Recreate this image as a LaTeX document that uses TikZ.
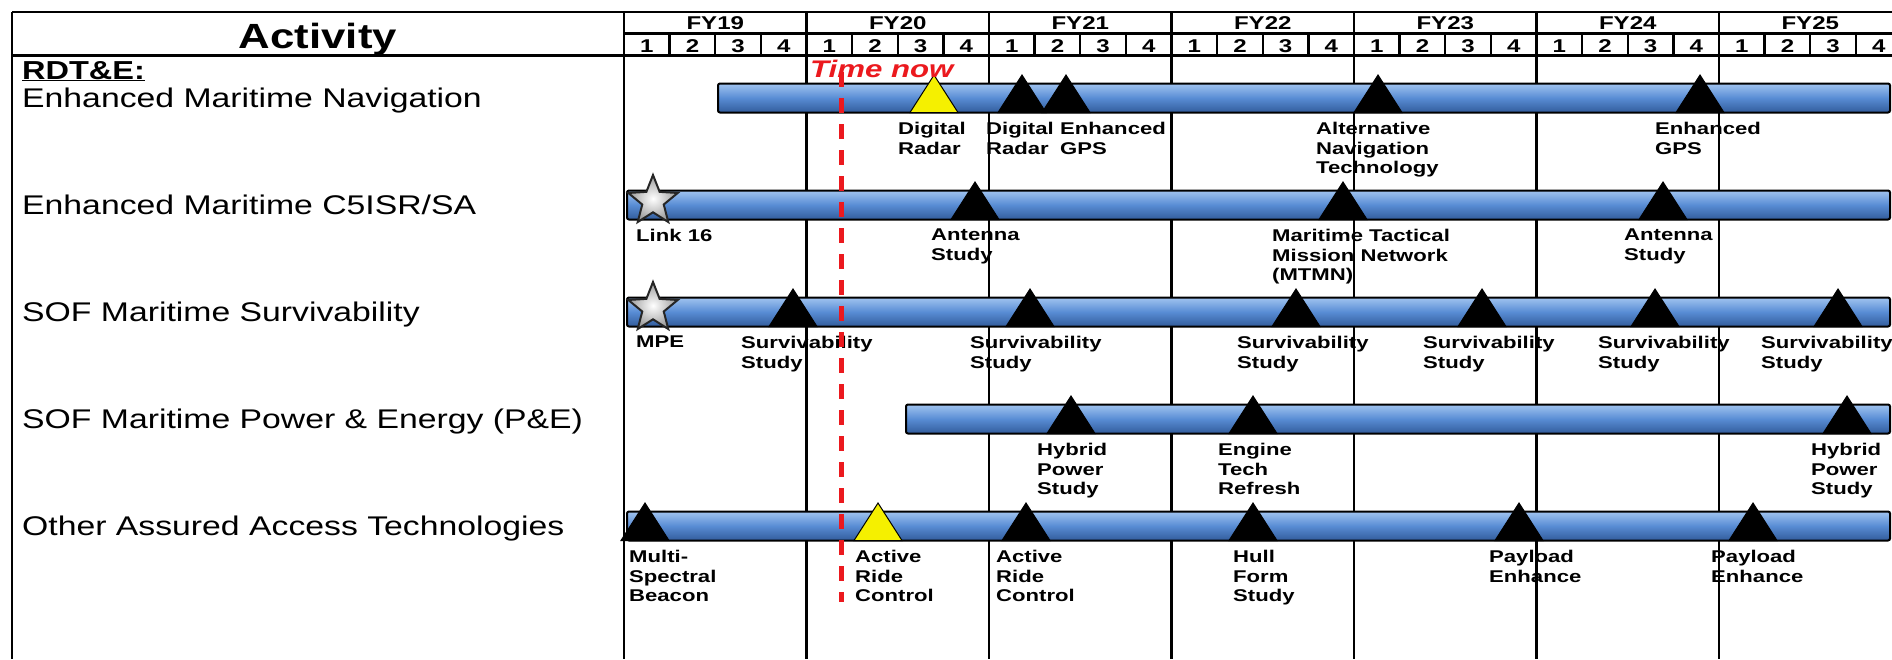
\documentclass[tikz,border=0pt]{standalone}
\usepackage{fontspec}
\setmainfont[FakeStretch=1.25]{Liberation Sans}
\newfontfamily\lblfont[FakeStretch=1.3]{Liberation Sans}
\usepackage{tikz}
\usetikzlibrary{shapes.geometric}

\definecolor{barblue}{RGB}{88,140,212}
\definecolor{barlight}{RGB}{160,196,240}
\definecolor{bardark}{RGB}{50,92,155}
\definecolor{nowred}{RGB}{235,25,30}
\definecolor{msyellow}{RGB}{245,240,0}

\tikzset{
  gridline/.style={line width=2.4pt,black},
  bar/.style={draw=black,line width=2pt,rounded corners=2pt,top color=barlight,bottom color=bardark,middle color=barblue},
  mstri/.style={draw=black,line width=1pt},
  msstar/.style={star,star points=5,star point ratio=2.3,minimum size=52pt,inner sep=0pt,
    draw=black!85,line width=2pt,inner color=white,outer color=gray!80},
  lbl/.style={anchor=north west,align=left,inner sep=0pt,font=\lblfont\bfseries\fontsize{17}{19.5}\selectfont},
  rowlbl/.style={anchor=base west,inner sep=0pt,font=\fontsize{27}{30}\selectfont},
  hdr/.style={anchor=base,inner sep=0pt,font=\lblfont\bfseries\fontsize{18.5}{21}\selectfont},
  nowline/.style={nowred,line width=5pt,dash pattern=on 15pt off 11pt}
}

% milestone triangle: [fill]{x}{row centre}
\newcommand{\tri}[3][black]{%
  \draw[mstri,fill=#1] ({#2-24},{#3+14.5}) -- (#2,{#3-23}) -- ({#2+24},{#3+14.5}) -- cycle;}

\begin{document}
\begin{tikzpicture}[x=1pt,y=-1pt]
\useasboundingbox (0,0) rectangle (1892,659);
\clip (0,0) rectangle (1892,659);

% table frame
\draw[gridline] (12,12) -- (1892,12);
\draw[gridline] (624,33.5) -- (1892,33.5);
\draw[gridline] (12,55.5) -- (1892,55.5);
\draw[gridline] (12,12) -- (12,659);
\foreach \k in {0,...,7}
  \draw[gridline] ({624+182.5*\k},12) -- ({624+182.5*\k},659);
\foreach \j in {1,...,27}
  \draw[gridline] ({624+45.625*\j},33.5) -- ({624+45.625*\j},55.5);

% header
\node[anchor=base,inner sep=0pt,font=\bfseries\fontsize{35}{40}\selectfont] (act) at (318,48.5) {Activity};
\foreach \yr [count=\i from 0] in {19,...,25} {
  \node[hdr] (fy\yr) at ({624+182.5*\i+91.25},29.5) {FY\yr};
  \foreach \q in {1,...,4}
    \node[hdr] (q\yr\q) at ({624+182.5*\i+45.625*(\q-0.5)},52) {\q};
}

% activities
\node[anchor=base west,inner sep=0pt,font=\bfseries\fontsize{26}{30}\selectfont] (rdte) at (22,79) {\underline{RDT\&E:}};
\node[rowlbl] (nav) at (22,107.5) {Enhanced Maritime Navigation};
\node[rowlbl] (cfive) at (22,214.5) {Enhanced Maritime C5ISR/SA};
\node[rowlbl] (surv) at (22,321.5) {SOF Maritime Survivability};
\node[rowlbl] (pe) at (22,428.5) {SOF Maritime Power \& Energy (P\&E)};
\node[rowlbl] (other) at (22,535.5) {Other Assured Access Technologies};

% bars
\draw[bar] (718,83.5) rectangle (1890,112.5);
\draw[bar] (627,190.5) rectangle (1890,219.5);
\draw[bar] (627,297.5) rectangle (1890,326.5);
\draw[bar] (906,404.5) rectangle (1890,433.5);
\draw[bar] (627,511.5) rectangle (1890,540.5);

% milestones
\tri[msyellow]{934}{98}
\tri{1022}{98}
\tri{1066}{98}
\tri{1378}{98}
\tri{1700}{98}

\node[msstar] (link) at (653,201) {};
\tri{975}{205}
\tri{1343}{205}
\tri{1663}{205}

\node[msstar] (mpe) at (653,308) {};
\tri{793}{312}
\tri{1030}{312}
\tri{1296}{312}
\tri{1482}{312}
\tri{1655}{312}
\tri{1838}{312}

\tri{1071}{419}
\tri{1253}{419}
\tri{1847}{419}

\tri{645}{526}
\tri[msyellow]{878}{526}
\tri{1026}{526}
\tri{1253}{526}
\tri{1519}{526}
\tri{1753}{526}

% milestone labels
\node[lbl] (radar1) at (898,122) {Digital\\Radar};
\node[lbl] (radar2) at (986,122) {Digital\\Radar};
\node[lbl] (gps1) at (1060,122) {Enhanced\\GPS};
\node[lbl] (altnav) at (1316,122) {Alternative\\Navigation\\Technology};
\node[lbl] (gps2) at (1655,122) {Enhanced\\GPS};

\node[lbl] (link16) at (636,229) {Link 16};
\node[lbl] (ant1) at (931,229) {Antenna\\Study};
\node[lbl] (mtmn) at (1272,229) {Maritime Tactical\\Mission Network\\(MTMN)};
\node[lbl] (ant2) at (1624,229) {Antenna\\Study};

\node[lbl] (mpelbl) at (636,336) {MPE};
\node[lbl] (sv1) at (741,336) {Survivability\\Study};
\node[lbl] (sv2) at (970,336) {Survivability\\Study};
\node[lbl] (sv3) at (1237,336) {Survivability\\Study};
\node[lbl] (sv4) at (1423,336) {Survivability\\Study};
\node[lbl] (sv5) at (1598,336) {Survivability\\Study};
\node[lbl] (sv6) at (1761,336) {Survivability\\Study};

\node[lbl] (hyb1) at (1037,443) {Hybrid\\Power\\Study};
\node[lbl] (eng) at (1218,443) {Engine\\Tech\\Refresh};
\node[lbl] (hyb2) at (1811,443) {Hybrid\\Power\\Study};

\node[lbl] (beacon) at (629,550) {Multi-\\Spectral\\Beacon};
\node[lbl] (ride1) at (855,550) {Active\\Ride\\Control};
\node[lbl] (ride2) at (996,550) {Active\\Ride\\Control};
\node[lbl] (hull) at (1233,550) {Hull\\Form\\Study};
\node[lbl] (pay1) at (1489,550) {Payload\\Enhance};
\node[lbl] (pay2) at (1711,550) {Payload\\Enhance};

% time now
\draw[nowline] (841,72) -- (841,602);
\node[anchor=base west,inner sep=0pt,text=nowred,font=\lblfont\bfseries\itshape\fontsize{24}{26}\selectfont] (tnow) at (810,77) {Time now};
\end{tikzpicture}
\end{document}
